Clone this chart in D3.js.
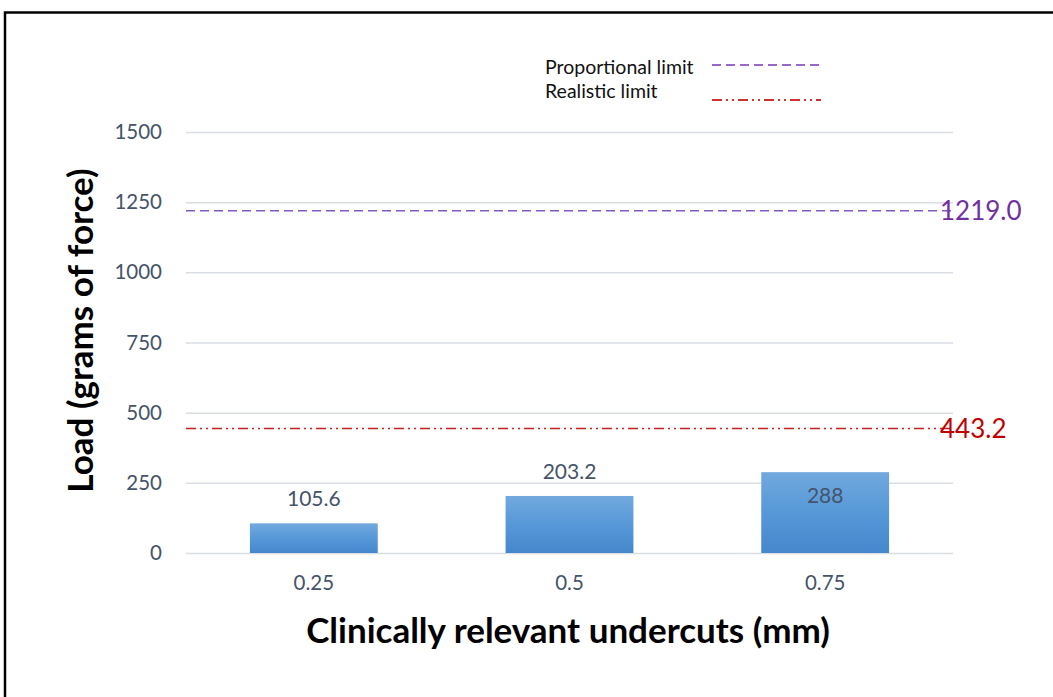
<!DOCTYPE html>
<html>
<head>
<meta charset="utf-8">
<script src="https://cdn.jsdelivr.net/npm/d3@7"></script>
<style>
  html, body { margin: 0; padding: 0; background: #fff; }
  svg { display: block; }
</style>
</head>
<body>
<svg id="chart" width="1053" height="697"></svg>
<script>
// Undercut depths and measured retention loads
const categories = ["0.25", "0.5", "0.75"];
const loads = [105.6, 203.2, 288];
const loadLabels = ["105.6", "203.2", "288"];
const yTicks = [0, 250, 500, 750, 1000, 1250, 1500];

// Reference limits
const limitNames = ["Proportional limit", "Realistic limit"];
const limitValues = [1219.0, 443.2];
const limitLabels = ["1219.0", "443.2"];

const svg = d3.select("#chart");
const font = "Lato, 'Open Sans', sans-serif";

const margin = { left: 186, right: 100, top: 132, bottom: 144 };
const W = 1053, H = 697;

const x = d3.scaleBand()
  .domain(categories)
  .range([margin.left, W - margin.right])
  .paddingInner(0.5)
  .paddingOuter(0.25);

const y = d3.scaleLinear()
  .domain([0, 1500])
  .range([H - margin.bottom, margin.top]);

// Frame (top and left edges)
svg.append("path")
  .attr("d", `M5,${H} L5,12.5 L${W},12.5`)
  .attr("fill", "none")
  .attr("stroke", "#000")
  .attr("stroke-width", 2.5);

// Gradient for bars
const defs = svg.append("defs");
const grad = defs.append("linearGradient")
  .attr("id", "barGrad").attr("x1", 0).attr("y1", 0).attr("x2", 0).attr("y2", 1);
grad.append("stop").attr("offset", "0%").attr("stop-color", "#72a9de");
grad.append("stop").attr("offset", "50%").attr("stop-color", "#5698d8");
grad.append("stop").attr("offset", "100%").attr("stop-color", "#4587cb");

// Y axis with gridlines
const yAxis = d3.axisLeft(y)
  .tickValues(yTicks)
  .tickSize(-(W - margin.left - margin.right))
  .tickPadding(24)
  .tickFormat(d3.format("d"));

const gy = svg.append("g")
  .attr("transform", `translate(${margin.left},0)`)
  .call(yAxis);
gy.select(".domain").remove();
gy.selectAll(".tick line").attr("stroke", "#d9dde4").attr("stroke-width", 1.5);
gy.selectAll(".tick text")
  .attr("fill", "#44546a")
  .style("font-family", font)
  .style("font-size", "20.5px");

// X axis labels
const xAxis = d3.axisBottom(x).tickSize(0).tickPadding(22);
const gx = svg.append("g")
  .attr("transform", `translate(0,${y(0)})`)
  .call(xAxis);
gx.select(".domain").remove();
gx.selectAll(".tick text")
  .attr("fill", "#44546a")
  .style("font-family", font)
  .style("font-size", "20.5px");

// Bars
svg.append("g").selectAll("rect")
  .data(loads)
  .join("rect")
  .attr("x", (d, i) => x(categories[i]))
  .attr("y", d => y(d))
  .attr("width", x.bandwidth())
  .attr("height", d => y(0) - y(d))
  .attr("fill", "url(#barGrad)");

// Bar value labels
const labelOffsets = [-17, -17, 31];
svg.append("g").selectAll("text")
  .data(loads)
  .join("text")
  .attr("x", (d, i) => x(categories[i]) + x.bandwidth() / 2)
  .attr("y", (d, i) => y(d) + labelOffsets[i])
  .attr("text-anchor", "middle")
  .attr("fill", "#44546a")
  .style("font-family", font)
  .style("font-size", "21px")
  .text((d, i) => loadLabels[i]);

// Limit lines
const limitColors = ["#7f5bbf", "#c81e1e"];
const limitDash = ["9,5", "10,4,2,4,2,4"];
const labelColors = ["#7030a0", "#c00000"];

limitValues.forEach((v, i) => {
  svg.append("line")
    .attr("x1", margin.left).attr("x2", W - margin.right)
    .attr("y1", y(v)).attr("y2", y(v))
    .attr("stroke", limitColors[i])
    .attr("stroke-width", 1.5)
    .attr("stroke-dasharray", limitDash[i]);
  svg.append("text")
    .attr("x", 940)
    .attr("y", y(v) + 9)
    .attr("fill", labelColors[i])
    .style("font-family", font)
    .style("font-size", "26px")
    .text(limitLabels[i]);
});

// Legend
const legendY = [67, 91];
const legendLineY = [65, 100];
const legendLineColors = ["#9966cc", "#d03030"];
limitNames.forEach((name, i) => {
  svg.append("text")
    .attr("x", 545)
    .attr("y", legendY[i] + 7)
    .attr("fill", "#111")
    .style("font-family", font)
    .style("font-size", "19.5px")
    .text(name);
  svg.append("line")
    .attr("x1", 712).attr("x2", 821)
    .attr("y1", legendLineY[i]).attr("y2", legendLineY[i])
    .attr("stroke", legendLineColors[i])
    .attr("stroke-width", 2)
    .attr("stroke-dasharray", limitDash[i]);
});

// Axis titles
svg.append("text")
  .attr("transform", `translate(93,${(margin.top + y(0)) / 2 - 12}) rotate(-90)`)
  .attr("text-anchor", "middle")
  .attr("fill", "#000")
  .style("font-family", font)
  .style("font-weight", "bold")
  .style("font-size", "35px")
  .text("Load (grams of force)");

svg.append("text")
  .attr("x", 568)
  .attr("y", 643)
  .attr("text-anchor", "middle")
  .attr("fill", "#000")
  .style("font-family", font)
  .style("font-weight", "bold")
  .style("font-size", "35px")
  .text("Clinically relevant undercuts (mm)");
</script>
</body>
</html>
